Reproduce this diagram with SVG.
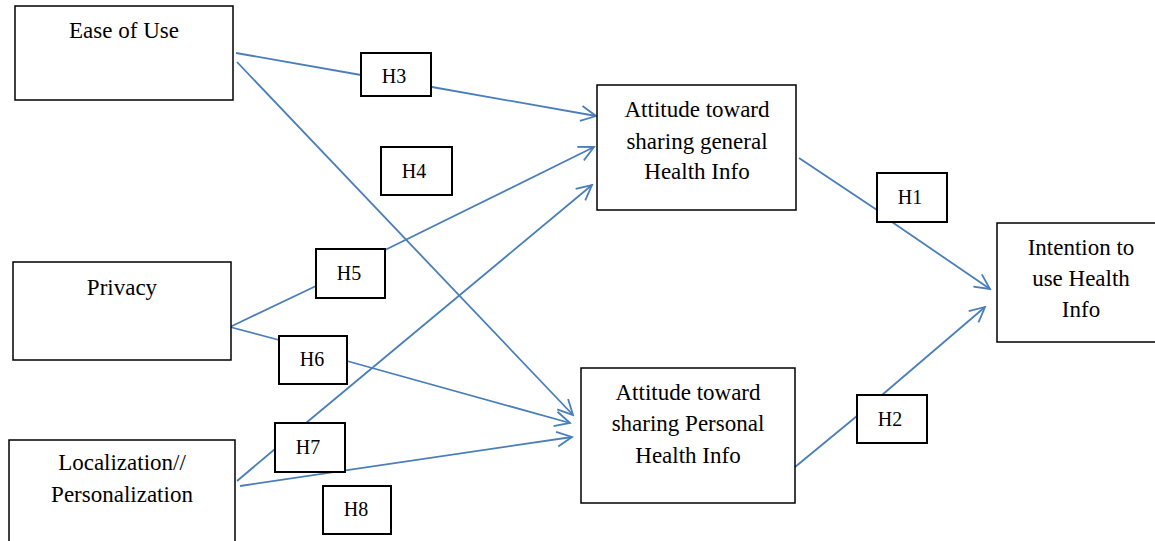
<svg xmlns="http://www.w3.org/2000/svg" width="1155" height="541" viewBox="0 0 1155 541" font-family="Liberation Serif, Times New Roman, Times, serif">
<style>
.box{fill:#fff;stroke:#000;stroke-width:1.5}
.hbox{fill:#fff;stroke:#000;stroke-width:2}
.t{font-size:23px;fill:#000;text-anchor:middle}
.h{font-size:20px;fill:#000;text-anchor:middle}
.c{stroke:#4a7ebb;stroke-width:1.8;fill:none}
.a{marker-end:url(#arr)}
</style>
<defs>
<marker id="arr" viewBox="-17 -9 19 18" markerWidth="19" markerHeight="18" refX="0" refY="0" orient="auto" markerUnits="userSpaceOnUse">
<path d="M-15,-7.5 L0,0 L-15,7.5" fill="none" stroke="#4a7ebb" stroke-width="1.8"/>
</marker>
</defs>
<g id="connectors">
<line class="c" x1="236" y1="53" x2="361" y2="75"/>
<line class="c a" x1="432" y1="87" x2="596" y2="116"/>
<line class="c a" x1="237" y1="62" x2="573" y2="415"/>
<line class="c" x1="230" y1="327" x2="316" y2="286"/>
<line class="c a" x1="385" y1="250" x2="594" y2="147"/>
<line class="c" x1="230" y1="327" x2="279" y2="340"/>
<line class="c a" x1="347" y1="361" x2="570" y2="423"/>
<line class="c" x1="237" y1="481" x2="275" y2="449"/>
<line class="c a" x1="306" y1="423" x2="592" y2="185"/>
<line class="c a" x1="240" y1="486" x2="572" y2="437"/>
<line class="c" x1="799" y1="158" x2="877" y2="210"/>
<line class="c a" x1="892" y1="222" x2="990" y2="289"/>
<line class="c" x1="795" y1="467" x2="857" y2="416"/>
<line class="c a" x1="882" y1="395" x2="985" y2="307"/>
</g>
<g id="ease" font-family="Liberation Serif, serif">
<rect class="box" x="15" y="6" width="218" height="94"/>
<text class="t" x="124" y="38">Ease of Use</text>
</g>
<g id="privacy" font-family="Liberation Serif, serif">
<rect class="box" x="13" y="262" width="218" height="98"/>
<text class="t" x="122" y="295">Privacy</text>
</g>
<g id="localization" font-family="Liberation Serif, serif">
<rect class="box" x="9" y="440" width="226" height="110"/>
<text class="t" x="122" y="470">Localization//</text>
<text class="t" x="122" y="502">Personalization</text>
</g>
<g id="general" font-family="Liberation Serif, serif">
<rect class="box" x="597" y="85" width="199" height="125"/>
<text class="t" x="697" y="117">Attitude toward</text>
<text class="t" x="697" y="149">sharing general</text>
<text class="t" x="697" y="179">Health Info</text>
</g>
<g id="personal" font-family="Liberation Serif, serif">
<rect class="box" x="581" y="368" width="214" height="135"/>
<text class="t" x="688" y="400">Attitude toward</text>
<text class="t" x="688" y="431">sharing Personal</text>
<text class="t" x="688" y="463">Health Info</text>
</g>
<g id="intention" font-family="Liberation Serif, serif">
<rect class="box" x="997" y="223" width="160" height="119"/>
<text class="t" x="1081" y="255">Intention to</text>
<text class="t" x="1081" y="286">use Health</text>
<text class="t" x="1081" y="317">Info</text>
</g>
<g id="h1" font-family="Liberation Serif, serif"><rect class="hbox" x="877" y="173" width="70" height="49"/><text class="h" x="910" y="204">H1</text></g>
<g id="h2" font-family="Liberation Serif, serif"><rect class="hbox" x="857" y="395" width="70" height="48"/><text class="h" x="890" y="426">H2</text></g>
<g id="h3" font-family="Liberation Serif, serif"><rect class="hbox" x="361" y="53" width="70" height="43"/><text class="h" x="394" y="83">H3</text></g>
<g id="h4" font-family="Liberation Serif, serif"><rect class="hbox" x="381" y="147" width="71" height="48"/><text class="h" x="414" y="178">H4</text></g>
<g id="h5" font-family="Liberation Serif, serif"><rect class="hbox" x="316" y="249" width="69" height="49"/><text class="h" x="349" y="280">H5</text></g>
<g id="h6" font-family="Liberation Serif, serif"><rect class="hbox" x="279" y="336" width="68" height="48"/><text class="h" x="312" y="366">H6</text></g>
<g id="h7" font-family="Liberation Serif, serif"><rect class="hbox" x="275" y="423" width="70" height="49"/><text class="h" x="308" y="454">H7</text></g>
<g id="h8" font-family="Liberation Serif, serif"><rect class="hbox" x="323" y="486" width="68" height="48"/><text class="h" x="356" y="516">H8</text></g>
</svg>
